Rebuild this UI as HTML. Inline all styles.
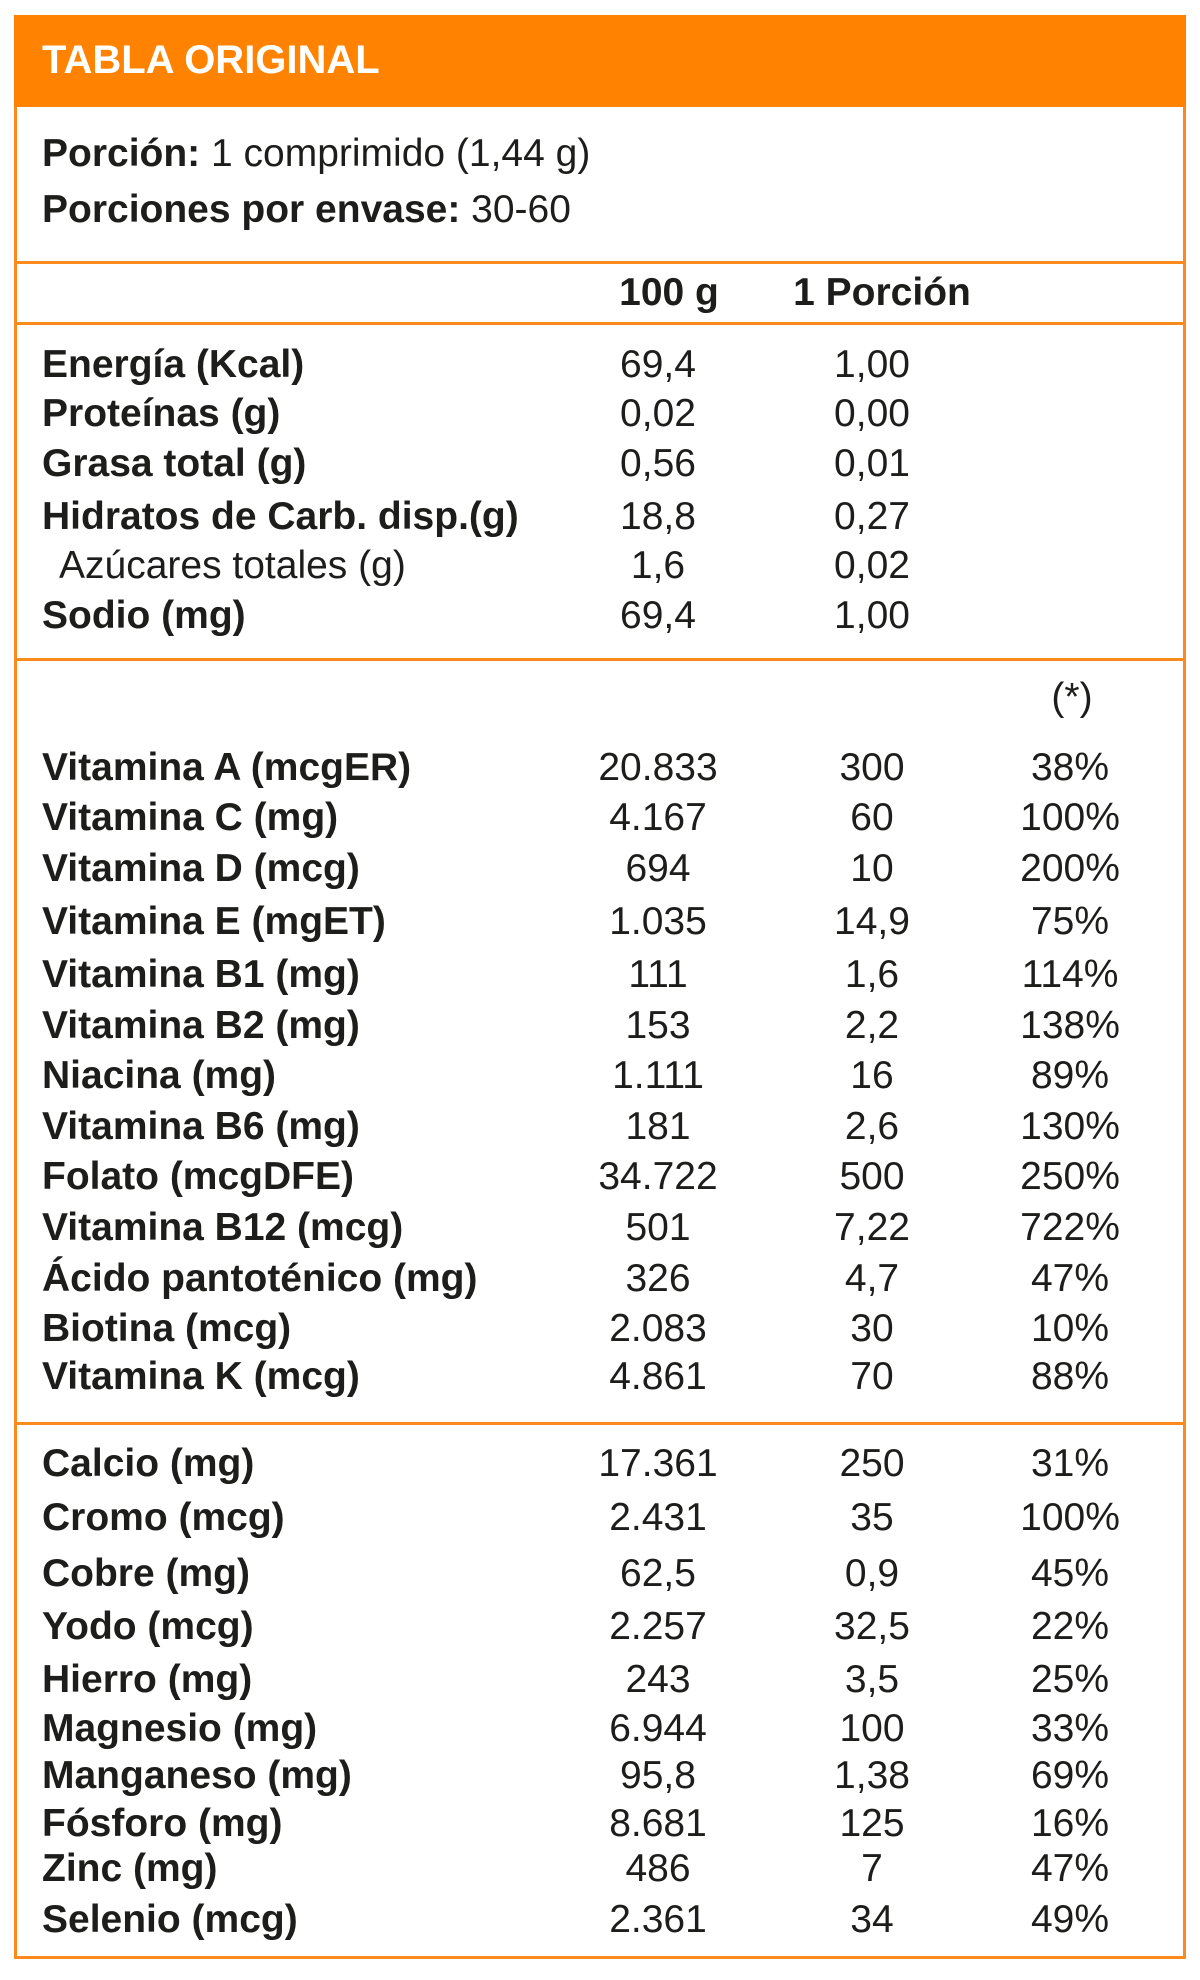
<!DOCTYPE html>
<html><head><meta charset="utf-8"><style>
body{margin:0;background:#fff;width:1200px;height:1980px;position:relative;overflow:hidden;font-family:"Liberation Sans Narrow","Liberation Sans",sans-serif;color:#1d1d1b}
.box{position:absolute;left:14px;top:15px;width:1166px;height:1938px;border:3px solid #fb8a1c}
.hdr{position:absolute;left:14px;top:15px;width:1172px;height:92px;background:#ff8300}
.title{position:absolute;left:42px;top:30px;font-size:40px;font-weight:bold;color:#fff;line-height:60px}
.hl{position:absolute;left:14px;width:1172px;height:3px;background:#fb8a1c}
.t{position:absolute;font-size:39px;line-height:50px;white-space:nowrap}
.b{font-weight:bold}
.c{transform:translateX(-50%)}
</style></head><body>
<div class="box"></div>
<div class="hdr"></div>
<div class="title">TABLA ORIGINAL</div>
<div class="t" style="left:42px;top:129px"><b>Porción:</b> 1 comprimido (1,44 g)</div>
<div class="t" style="left:42px;top:185px"><b>Porciones por envase:</b> 30-60</div>
<div class="hl" style="top:261px"></div>
<div class="t b c" style="left:669px;top:268px">100 g</div>
<div class="t b c" style="left:882px;top:268px">1 Porción</div>
<div class="hl" style="top:322px"></div>
<div class="hl" style="top:658px"></div>
<div class="t c" style="left:1072px;top:673px">(*)</div>
<div class="hl" style="top:1422px"></div>
<div id="rows"></div>
<script>
const labels=["Energía (Kcal)","Proteínas (g)","Grasa total (g)","Hidratos de Carb. disp.(g)","Azúcares totales (g)","Sodio (mg)","Vitamina A (mcgER)","Vitamina C (mg)","Vitamina D (mcg)","Vitamina E (mgET)","Vitamina B1 (mg)","Vitamina B2 (mg)","Niacina (mg)","Vitamina B6 (mg)","Folato (mcgDFE)","Vitamina B12 (mcg)","Ácido pantoténico (mg)","Biotina (mcg)","Vitamina K (mcg)","Calcio (mg)","Cromo (mcg)","Cobre (mg)","Yodo (mcg)","Hierro (mg)","Magnesio (mg)","Manganeso (mg)","Fósforo (mg)","Zinc (mg)","Selenio (mcg)"];
const per100=["69,4","0,02","0,56","18,8","1,6","69,4","20.833","4.167","694","1.035","111","153","1.111","181","34.722","501","326","2.083","4.861","17.361","2.431","62,5","2.257","243","6.944","95,8","8.681","486","2.361"];
const perPortion=["1,00","0,00","0,01","0,27","0,02","1,00","300","60","10","14,9","1,6","2,2","16","2,6","500","7,22","4,7","30","70","250","35","0,9","32,5","3,5","100","1,38","125","7","34"];
const pct=["","","","","","","38%","100%","200%","75%","114%","138%","89%","130%","250%","722%","47%","10%","88%","31%","100%","45%","22%","25%","33%","69%","16%","47%","49%"];
const ys=[365,414,464,517,566,616,768,818,869,922,975,1026,1076,1127,1177,1228,1279,1329,1377,1464,1518,1574,1627,1680,1729,1776,1824,1869,1920];
const root=document.getElementById('rows');
function add(txt,x,y,cls,name){const d=document.createElement('div');d.className='t '+cls;d.style.left=x+'px';d.style.top=(y-25)+'px';d.textContent=txt;


root.appendChild(d);}
labels.forEach((l,i)=>{const sub=i===4;
add(l,sub?59:42,ys[i],sub?'':'b','nutrient-label');
add(per100[i],658,ys[i],'c','value-100g');
add(perPortion[i],872,ys[i],'c','value-portion');
if(pct[i])add(pct[i],1070,ys[i],'c','value-percent');});
</script>
</body></html>
